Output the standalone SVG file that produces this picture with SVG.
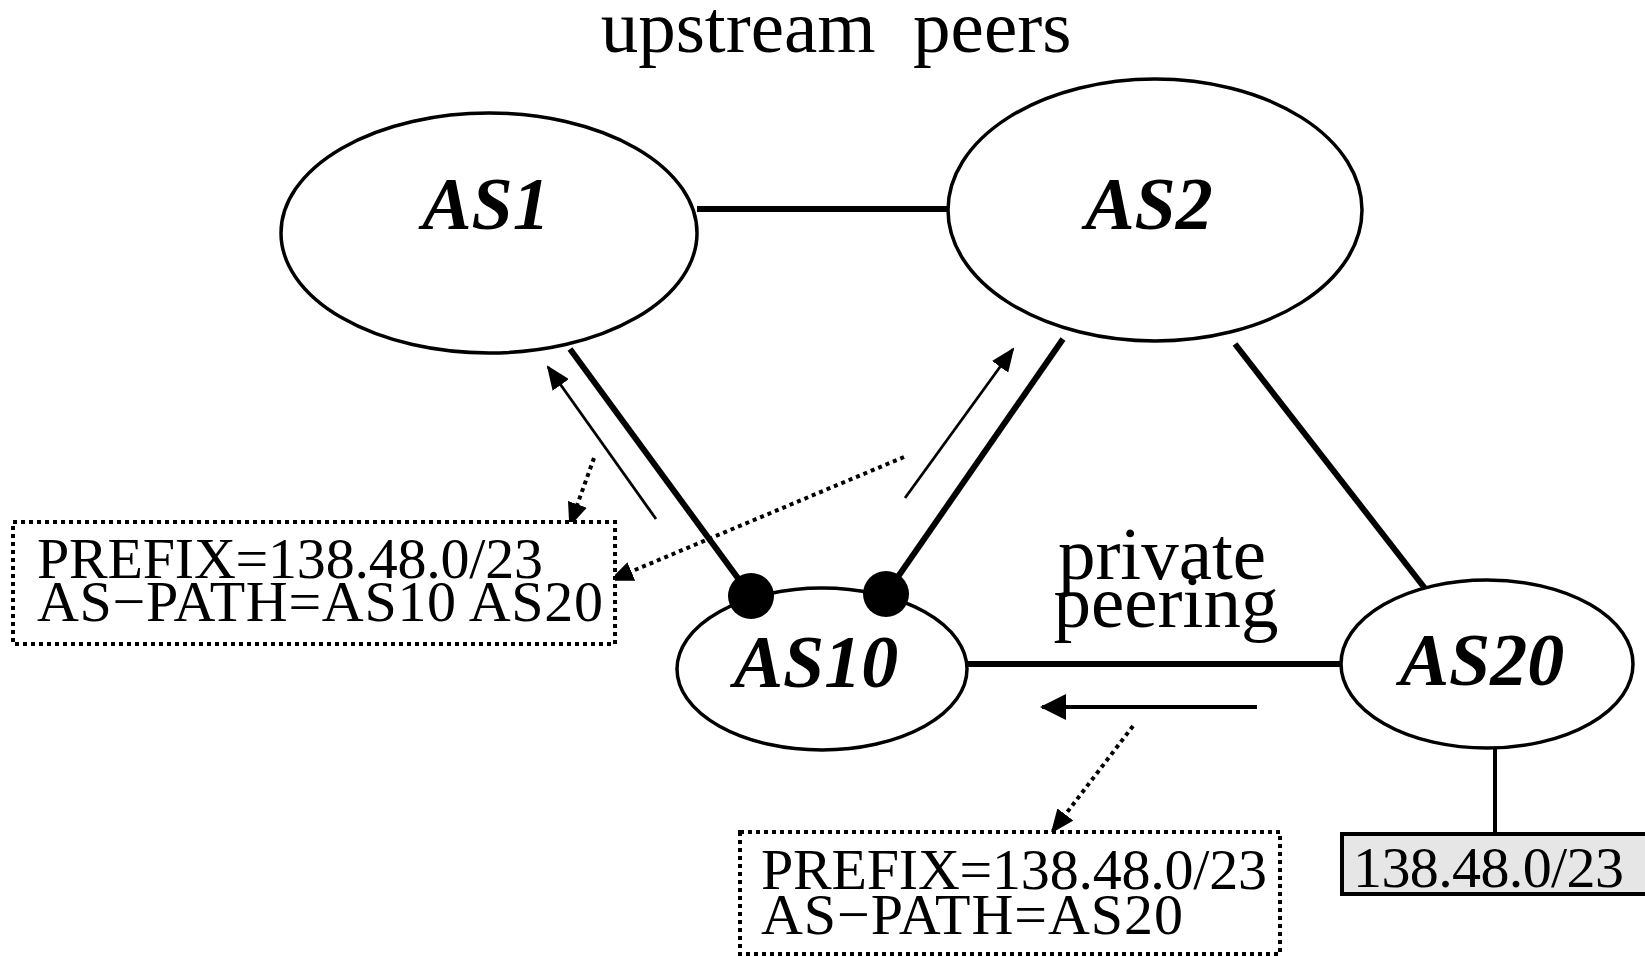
<svg xmlns="http://www.w3.org/2000/svg" width="1645" height="957" viewBox="0 0 1645 957">
  <style>
    .node { fill: #fff; stroke: #000; stroke-width: 3.5; }
    .as { font-family: "Liberation Serif", "Times New Roman", serif; font-weight: bold; font-style: italic; font-size: 74px; text-anchor: middle; fill: #000; }
    .lbl { font-family: "Liberation Serif", "Times New Roman", serif; font-size: 75px; fill: #000; }
    .info { font-family: "Liberation Serif", "Times New Roman", serif; font-size: 58px; fill: #000; }
    .link { stroke: #000; stroke-width: 6; fill: none; }
    .thin { stroke: #000; stroke-width: 2.8; fill: none; }
    .dot { stroke: #000; stroke-width: 4; stroke-dasharray: 4 4; fill: none; }
    .dotbox { fill: #fff; stroke: #000; stroke-width: 4; stroke-dasharray: 4 4; }
  </style>
  <defs>
    <marker id="ah" viewBox="0 0 24 20" refX="22" refY="10" markerWidth="24" markerHeight="20" markerUnits="userSpaceOnUse" orient="auto">
      <path d="M0,0 L24,10 L0,20 z" fill="#000"/>
    </marker>
    <marker id="ahBig" viewBox="0 0 26 26" refX="24" refY="13" markerWidth="26" markerHeight="26" markerUnits="userSpaceOnUse" orient="auto">
      <path d="M0,0 L26,13 L0,26 z" fill="#000"/>
    </marker>
  </defs>

  <rect width="1645" height="957" fill="#fff"/>

  <text class="lbl" x="836" y="52" text-anchor="middle" xml:space="preserve">upstream  peers</text>

  <!-- links between autonomous systems -->
  <g id="connectors">
    <line class="link" x1="697" y1="209" x2="947" y2="209"/>
    <line class="link" x1="570" y1="349" x2="751" y2="596"/>
    <line class="link" x1="1063" y1="339" x2="886" y2="594"/>
    <line class="link" x1="1235" y1="344" x2="1427" y2="591"/>
    <line class="link" x1="967" y1="664" x2="1341" y2="664"/>
    <line stroke="#000" stroke-width="4" x1="1495" y1="748" x2="1495" y2="834"/>

    <!-- announcement directions -->
    <line class="thin" x1="656" y1="519" x2="548" y2="367" marker-end="url(#ah)"/>
    <line class="thin" x1="905" y1="498" x2="1013" y2="349" marker-end="url(#ah)"/>
    <line stroke="#000" stroke-width="4" x1="1257" y1="707" x2="1042" y2="707" marker-end="url(#ahBig)"/>

    <!-- pointers to route contents -->
    <line class="dot" x1="594" y1="458" x2="570" y2="525" marker-end="url(#ah)"/>
    <line class="dot" x1="904" y1="457" x2="611" y2="580" marker-end="url(#ah)"/>
    <line class="dot" x1="1133" y1="726" x2="1052" y2="832" marker-end="url(#ah)"/>
  </g>

  <g id="as1">
    <ellipse class="node" cx="489" cy="233" rx="208" ry="120"/>
    <text class="as" x="486" y="229">AS1</text>
  </g>

  <g id="as2">
    <ellipse class="node" cx="1155" cy="210" rx="207" ry="131"/>
    <text class="as" x="1149" y="229">AS2</text>
  </g>

  <g id="as10">
    <ellipse class="node" cx="822" cy="669" rx="145" ry="81"/>
    <text class="as" x="816" y="687">AS10</text>
    <circle cx="751" cy="596" r="23" fill="#000"/>
    <circle cx="886" cy="594" r="23" fill="#000"/>
  </g>

  <g id="as20">
    <ellipse class="node" cx="1487" cy="664" rx="146" ry="84"/>
    <text class="as" x="1482" y="685">AS20</text>
  </g>

  <g id="peering-label">
    <text class="lbl" x="1162" y="579" text-anchor="middle">private</text>
    <text class="lbl" x="1166" y="627" text-anchor="middle">peering</text>
  </g>

  <g id="route-upstream">
    <rect class="dotbox" x="13" y="522" width="602" height="122"/>
    <text class="info" x="37" y="578" textLength="506" lengthAdjust="spacing">PREFIX=138.48.0/23</text>
    <text class="info" x="37" y="621" textLength="566" lengthAdjust="spacing">AS−PATH=AS10 AS20</text>
  </g>

  <g id="route-private">
    <rect class="dotbox" x="740" y="832" width="540" height="122"/>
    <text class="info" x="761" y="889" textLength="506" lengthAdjust="spacing">PREFIX=138.48.0/23</text>
    <text class="info" x="761" y="934" textLength="422" lengthAdjust="spacing">AS−PATH=AS20</text>
  </g>

  <g id="prefix">
    <rect x="1342" y="834" width="310" height="60" fill="#e6e6e6" stroke="#000" stroke-width="4"/>
    <text class="info" x="1353" y="887" textLength="271" lengthAdjust="spacing">138.48.0/23</text>
  </g>
</svg>
